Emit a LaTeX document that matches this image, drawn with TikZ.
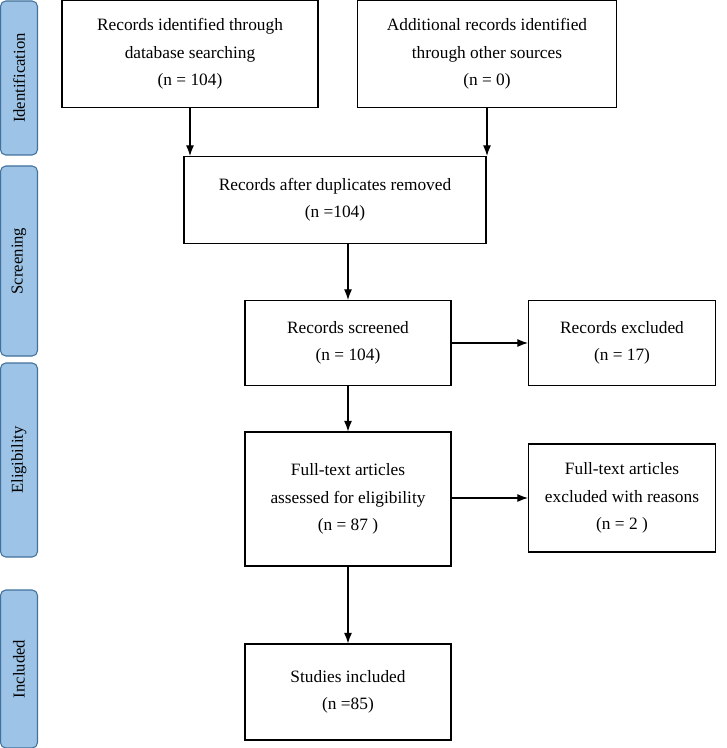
\documentclass[tikz,border=0pt]{standalone}
\usepackage{fontspec}
\setmainfont{Liberation Serif}
\usetikzlibrary{positioning,arrows.meta}
\definecolor{stagefill}{HTML}{9DC3E6}
\definecolor{stageline}{HTML}{41719C}
\tikzset{
  box/.style={draw, thick, align=center, inner sep=0pt, font=\fontsize{13}{20.5}\selectfont},
  stage/.style={draw=stageline, thick, fill=stagefill, rounded corners=4pt, inner sep=0pt,
    minimum height=37*0.75pt, rotate=90, font=\fontsize{12.5}{14}\selectfont},
  arr/.style={-{Latex[length=8pt,width=6pt]}, thick}
}
\begin{document}
\begin{tikzpicture}[x=0.75pt, y=-0.75pt]
  \useasboundingbox (0,0) rectangle (726,748);

  % Phasen
  \node[stage, minimum width=154*0.75pt] (ident) at (19,78) {Identification};
  \node[stage, minimum width=190*0.75pt] (screen) at (19,261) {Screening};
  \node[stage, minimum width=194*0.75pt] (elig) at (19,460) {Eligibility};
  \node[stage, minimum width=158*0.75pt] (incl) at (19,669) {Included};

  % Boxen
  \node[box, minimum width=256*0.75pt, minimum height=107*0.75pt] (db) at (190,54)
    {Records identified through\\database searching\\(n = 104)};
  \node[box, minimum width=259*0.75pt, minimum height=107*0.75pt] (other) at (487,54)
    {Additional records identified\\through other sources\\(n = 0)};
  \node[box, minimum width=302*0.75pt, minimum height=87*0.75pt] (dup) at (335,200)
    {Records after duplicates removed\\(n =104)};
  \node[box, minimum width=206*0.75pt, minimum height=85*0.75pt] (scr) at (348,343)
    {Records screened\\(n = 104)};
  \node[box, minimum width=187*0.75pt, minimum height=85*0.75pt] (exc) at (622,343)
    {Records excluded\\(n = 17)};
  \node[box, minimum width=206*0.75pt, minimum height=134*0.75pt] (full) at (348,499)
    {Full-text articles\\assessed for eligibility\\(n = 87 )};
  \node[box, minimum width=187*0.75pt, minimum height=108*0.75pt] (exc2) at (622,498)
    {Full-text articles\\excluded with reasons\\(n = 2 )};
  \node[box, minimum width=206*0.75pt, minimum height=96*0.75pt] (stud) at (348,692)
    {Studies included\\(n =85)};

  % Pfeile
  \draw[arr] (db.south) -- (db.south |- dup.north);
  \draw[arr] (other.south) -- (other.south |- dup.north);
  \draw[arr] (dup.south -| scr.north) -- (scr.north);
  \draw[arr] (scr.east) -- (exc.west);
  \draw[arr] (scr.south) -- (full.north);
  \draw[arr] (full.east |- exc2.west) -- (exc2.west);
  \draw[arr] (full.south) -- (stud.north);
\end{tikzpicture}
\end{document}
